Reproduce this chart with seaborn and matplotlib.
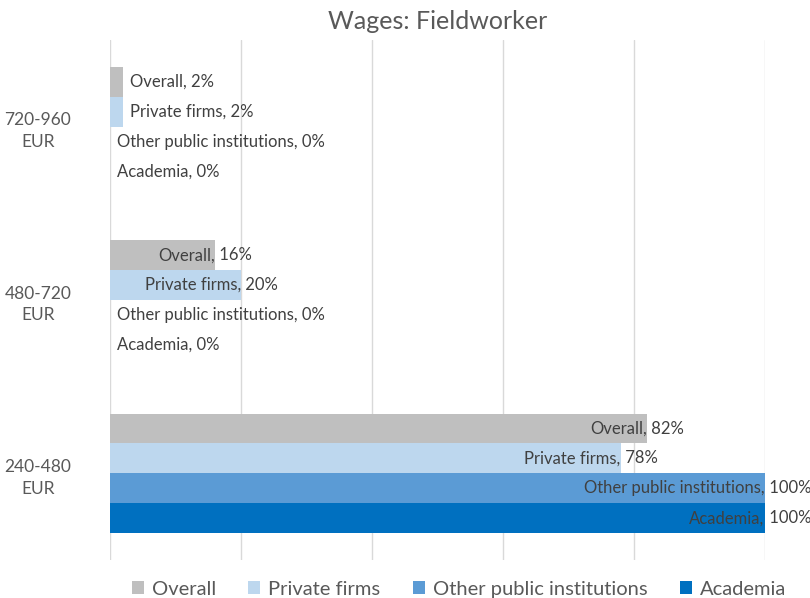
import numpy as np
import pandas as pd
import matplotlib
matplotlib.use("Agg")
import matplotlib.pyplot as plt
import seaborn as sns

# data (categories top to bottom)
wage_bands = ['720-960\nEUR', '480-720\nEUR', '240-480\nEUR']
groups = ['Overall', 'Private firms', 'Other public institutions', 'Academia']
overall = [2, 16, 82]
private_firms = [2, 20, 78]
other_public = [0, 0, 100]
academia = [0, 0, 100]
colors = ['#BFBFBF', '#BDD7EE', '#5B9BD5', '#0070C0']

values = [overall, private_firms, other_public, academia]
rows = []
for g, vals in zip(groups, values):
    for band, v in zip(wage_bands, vals):
        rows.append({'Wage': band, 'Group': g, 'Share': v})
df = pd.DataFrame(rows)

sns.set_style("white")
plt.rcParams['font.family'] = ['Lato', 'DejaVu Sans']
text_color = '#404040'

fig = plt.figure(figsize=(8.1, 5.98), dpi=100)
ax = fig.add_axes([0.1358, 0.0635, 0.8082, 0.8695])

sns.barplot(data=df, x='Share', y='Wage', hue='Group', order=wage_bands, hue_order=groups,
            palette=colors, orient='h', width=0.69, gap=0, linewidth=0, saturation=1, ax=ax)

ax.set_xlim(0, 100)
ax.set_xticks(np.arange(0, 101, 20))
ax.set_xticklabels([])
ax.tick_params(axis='x', length=0)
ax.grid(axis='x', color='#D9D9D9', linewidth=1)
ax.set_axisbelow(True)
sns.despine(ax=ax, left=True, bottom=True)
ax.set_xlabel('')
ax.set_ylabel('')
ax.tick_params(axis='y', length=0, pad=52, labelsize=12.5, labelcolor='#595959')
for lab in ax.get_yticklabels():
    lab.set_multialignment('center')
    lab.set_horizontalalignment('center')
    lab.set_linespacing(1.45)

# data labels: "Series, value%"
for cont, g in zip(ax.containers, groups):
    for bar in cont:
        w = bar.get_width()
        yc = bar.get_y() + bar.get_height() / 2
        if w >= 10:
            ax.text(w, yc, g + ',', ha='right', va='center', fontsize=12, color=text_color)
            ax.text(w, yc, ' %d%%' % round(w), ha='left', va='center', fontsize=12, color=text_color)
        else:
            ax.annotate('%s, %d%%' % (g, round(w)), xy=(w, yc), xytext=(5, 0),
                        textcoords='offset points', ha='left', va='center',
                        fontsize=12, color=text_color)

ax.set_title('Wages: Fieldworker', fontsize=18, color='#595959', pad=8)

handles, labels = ax.get_legend_handles_labels()
ax.legend(handles, labels, loc='upper center', bbox_to_anchor=(0.533, -0.005), ncol=4,
          frameon=False, fontsize=14.5, handlelength=0.6, handleheight=0.6,
          handletextpad=0.4, columnspacing=1.6, labelcolor='#595959')

fig.savefig('out.png', dpi=100)
